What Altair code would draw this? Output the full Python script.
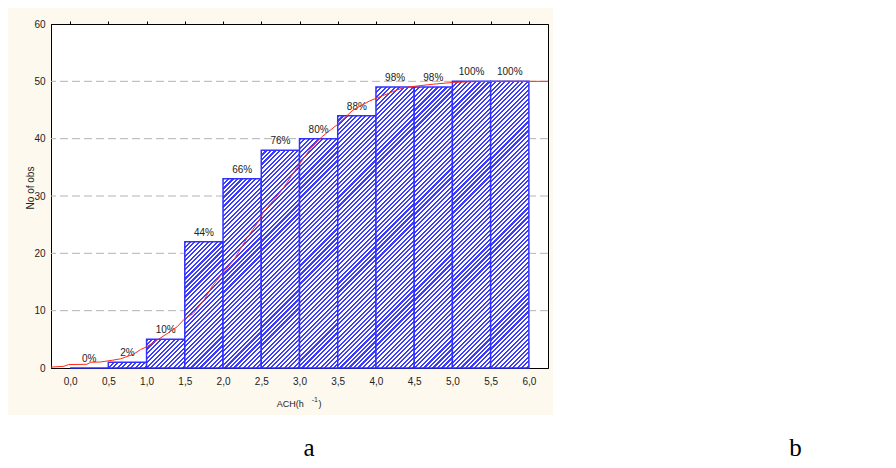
import math
import altair as alt
import pandas as pd

# ---- data ----
bin_start = [0.0, 0.5, 1.0, 1.5, 2.0, 2.5, 3.0, 3.5, 4.0, 4.5, 5.0, 5.5]
bin_end = [0.5, 1.0, 1.5, 2.0, 2.5, 3.0, 3.5, 4.0, 4.5, 5.0, 5.5, 6.0]
counts = [0, 1, 5, 22, 33, 38, 40, 44, 49, 49, 50, 50]
pct_labels = ["0%", "2%", "10%", "44%", "66%", "76%", "80%", "88%", "98%", "98%", "100%", "100%"]

curve_x = [-0.25, -0.08, -0.02, 0.22, 0.27, 0.40, 0.55, 0.66, 0.83, 0.92, 1.00, 1.13, 1.27,
           1.40, 1.50, 1.61, 1.75, 1.85, 1.92, 2.00, 2.14, 2.31, 2.46, 2.53, 2.75, 2.83,
           2.96, 3.14, 3.29, 3.49, 3.70, 3.92, 4.05, 4.22, 4.36, 4.55, 4.75, 5.00, 5.30,
           5.66, 6.25]
curve_y = [0.15, 0.3, 0.6, 0.65, 1.0, 1.05, 1.35, 1.6, 2.4, 3.2, 3.7, 4.8, 6.0,
           7.2, 8.6, 9.5, 11.8, 14.1, 15.3, 16.6, 18.8, 22.6, 25.5, 27.2, 30.7, 32.2,
           34.8, 38.2, 40.3, 42.4, 45.0, 46.6, 47.3, 48.2, 48.9, 49.2, 49.5, 49.8, 49.95,
           50.0, 50.0]

x_ticks = [0.0, 0.5, 1.0, 1.5, 2.0, 2.5, 3.0, 3.5, 4.0, 4.5, 5.0, 5.5, 6.0]
y_ticks = [0, 10, 20, 30, 40, 50, 60]
y_grid = [10, 20, 30, 40, 50]

bars_df = pd.DataFrame({"start": bin_start, "end": bin_end, "count": counts, "pct": pct_labels})
curve_df = pd.DataFrame({"x": curve_x, "y": curve_y})
grid_df = pd.DataFrame({"g": y_grid})

W, H = 497, 344
X_DOMAIN = [-0.25, 6.25]
Y_DOMAIN = [0, 60]
FONT = "Liberation Sans"
xscale = alt.Scale(domain=X_DOMAIN, nice=False, zero=False)
yscale = alt.Scale(domain=Y_DOMAIN, nice=False)

label_expr = "replace(format(datum.value, '.1f'), '.', ',')"

y_axis = alt.Axis(values=y_ticks, title=None, grid=False, ticks=False, labelPadding=6,
                  labelFontSize=10, labelFont=FONT, labelColor="#222222", domainColor="black")

blank = alt.Data(values=[{}])

# white areas outside the cream panel
white_right = alt.Chart(blank).mark_rect(color="white").encode(
    x=alt.value(502), x2=alt.value(850), y=alt.value(-20), y2=alt.value(440))
white_bottom = alt.Chart(blank).mark_rect(color="white").encode(
    x=alt.value(-50), x2=alt.value(850), y=alt.value(391), y2=alt.value(440))

grid = alt.Chart(grid_df).mark_rule(color="#b4b4b4", strokeWidth=1, strokeDash=[8, 4]).encode(
    y=alt.Y("g:Q", scale=yscale, axis=y_axis)
)

# hatched bars: one layer per bar, stripe gradient sized to the bar's pixel box
px_x = W / (X_DOMAIN[1] - X_DOMAIN[0])
px_y = H / (Y_DOMAIN[1] - Y_DOMAIN[0])
BLUE, WHITE = "#3c3cff", "#ffffff"
PERIOD = 3.2
BLUE_FRAC = 0.47


def hatch(w, h):
    k = (w + h) / (w * w + h * h)
    n = (w + h) / (PERIOD * math.sqrt(2))
    step = 1.0 / n
    stops = []
    t = 0.0
    while t < 1.0:
        a, b, c = t, min(t + step * BLUE_FRAC, 1.0), min(t + step, 1.0)
        stops += [{"offset": a, "color": BLUE}, {"offset": b, "color": BLUE},
                  {"offset": b, "color": WHITE}, {"offset": c, "color": WHITE}]
        t += step
    return {"gradient": "linear", "x1": 0, "y1": 0, "x2": k * w, "y2": k * h, "stops": stops}


x_axis_bottom = alt.Axis(values=x_ticks, labelExpr=label_expr, title=None, ticks=False,
                         labelPadding=8, labelFontSize=10, labelFont=FONT, labelColor="#222222",
                         domainColor="black", grid=False, orient="bottom")

bar_layers = []
for i, (s, e, c) in enumerate(zip(bin_start, bin_end, counts)):
    w = (e - s) * px_x
    h = c * px_y
    fill = hatch(w, h) if h > 0 else "#9c9cff"
    layer = alt.Chart(bars_df).transform_filter(f"datum.start == {s}").transform_calculate(
        base="0").mark_rect(fill=fill, stroke="#3030ff", strokeWidth=1.5).encode(
        x=alt.X("start:Q", scale=xscale, axis=x_axis_bottom if i == 0 else None),
        x2="end:Q",
        y=alt.Y("count:Q", scale=yscale, axis=y_axis),
        y2="base:Q",
    )
    bar_layers.append(layer)

labels = alt.Chart(bars_df).transform_calculate(mid="(datum.start + datum.end) / 2").mark_text(
    font=FONT, fontSize=10, color="#222222", baseline="alphabetic", dy=-6).encode(
    x=alt.X("mid:Q", scale=xscale, axis=None),
    y=alt.Y("count:Q", scale=yscale, axis=y_axis),
    text="pct:N",
)

curve = alt.Chart(curve_df).mark_line(color="#ff2a1a", strokeWidth=1).encode(
    x=alt.X("x:Q", scale=xscale,
            axis=alt.Axis(values=x_ticks, orient="top", labels=False, ticks=True, tickSize=3,
                          tickColor="black", domainColor="black", title=None, grid=False)),
    y=alt.Y("y:Q", scale=yscale, axis=y_axis),
)


def txt(s, x, y, size=10, font=FONT, align="left", angle=0, color="#222222"):
    kw = dict(text=s, font=font, fontSize=size, align=align, baseline="alphabetic", color=color)
    if angle:
        kw["angle"] = angle
        kw["baseline"] = "middle"
    return alt.Chart(blank).mark_text(**kw).encode(x=alt.value(x), y=alt.value(y))


ytitle = txt("No of obs", -20, 164, size=10, align="center", angle=270)
xt1 = txt("ACH(h", 225.7, 383, size=9)
xt2 = txt("-1", 260.7, 378, size=7)
xt3 = txt(")", 267.5, 383, size=9)
lab_a = txt("a", 258, 432, size=25, font="Liberation Serif", align="center", color="black")
lab_b = txt("b", 744.5, 432, size=25, font="Liberation Serif", align="center", color="black")

chart = alt.layer(
    white_right, white_bottom, grid, *bar_layers, labels, curve, ytitle, xt1, xt2, xt3, lab_a, lab_b
).resolve_axis(x="independent").properties(
    width=W, height=H,
    autosize=alt.AutoSizeParams(type="none"),
    padding={"left": 43, "top": 16, "right": 880 - 43 - W, "bottom": 452 - 16 - H},
    background="#fdf9ef",
).configure_view(stroke="black", strokeWidth=1, fill="white")

chart.save("out.html", embed_options={"renderer": "svg", "actions": False})
